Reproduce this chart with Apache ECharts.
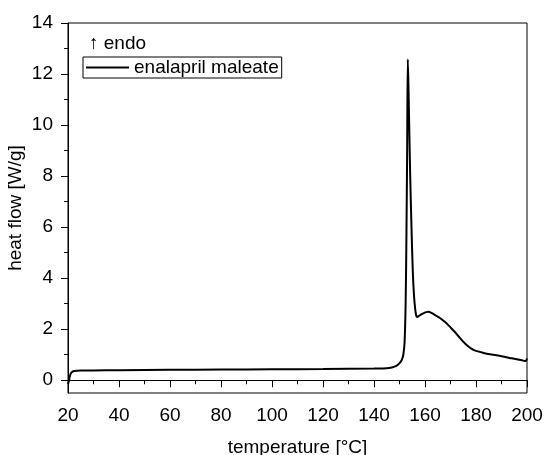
<!DOCTYPE html>
<html>
<head>
<meta charset="utf-8">
<script src="https://cdn.jsdelivr.net/npm/echarts@6/dist/echarts.min.js"></script>
<style>
html,body{margin:0;padding:0;background:#fff;}
#chart{width:544px;height:455px;}
</style>
</head>
<body>
<div id="chart"></div>
<script>
// temperature [°C]
var temperature = [20.0, 20.3, 20.7, 21.2, 21.8, 22.5, 23.5, 25, 30, 40, 60, 80, 100, 120, 140, 145, 147, 148.5, 149.5, 150.3, 150.9, 151.5, 152.0, 152.4, 152.7, 153.0, 153.25, 153.5, 153.8, 154.2, 154.7, 155.2, 155.7, 156.2, 156.6, 157.0, 157.6, 158.5, 159.5, 160.5, 161.3, 162.5, 164, 166, 168, 170, 172, 174, 176, 178, 180, 183, 186, 190, 194, 198, 199.5, 200];
// heat flow [W/g]
var heatFlow = [-0.15, -0.05, 0.15, 0.28, 0.34, 0.36, 0.37, 0.38, 0.385, 0.39, 0.41, 0.42, 0.43, 0.44, 0.46, 0.47, 0.5, 0.55, 0.62, 0.7, 0.8, 1.0, 1.5, 3.0, 5.5, 9.0, 12.58, 11.6, 10.0, 8.0, 6.0, 4.3, 3.3, 2.75, 2.52, 2.48, 2.52, 2.58, 2.63, 2.67, 2.68, 2.64, 2.55, 2.43, 2.27, 2.07, 1.86, 1.62, 1.41, 1.25, 1.15, 1.07, 1.01, 0.94, 0.86, 0.78, 0.75, 0.85];
var seriesName = 'enalapril maleate';
var yLabelValues = [0, 2, 4, 6, 8, 10, 12, 14];
var yMinorValues = [1, 3, 5, 7, 9, 11, 13];

var data = temperature.map(function (t, i) { return [t, heatFlow[i]]; });
var font = 'Liberation Sans, Arial, sans-serif';
var chart = echarts.init(document.getElementById('chart'), null, {renderer: 'canvas'});
chart.setOption({
  animation: false,
  backgroundColor: '#fff',
  grid: {left: 68, right: 17, top: 23, bottom: 62, show: true, borderColor: '#000', borderWidth: 1, containLabel: false, outerBoundsMode: 'none'},
  legend: {
    left: 83, top: 57, orient: 'vertical',
    padding: [1, 3, 1, 3],
    borderColor: '#000', borderWidth: 1, borderRadius: 0,
    itemWidth: 43, itemHeight: 14,
    textStyle: {fontFamily: font, fontSize: 19, color: '#000'},
    data: [{name: seriesName, icon: 'path://M0,0 L43,0 L43,2 L0,2 Z'}]
  },
  graphic: [{
    type: 'text', left: 89, top: 34,
    style: {text: '↑ endo', fontFamily: font, fontSize: 19, fill: '#000'}
  }],
  xAxis: {
    type: 'value', min: 20, max: 200, interval: 20,
    name: 'temperature [°C]', nameLocation: 'middle', nameGap: 45, nameMoveOverlap: false,
    nameTextStyle: {fontFamily: font, fontSize: 19, color: '#000'},
    axisLine: {show: true, lineStyle: {color: '#000', width: 1}},
    axisTick: {show: true, length: 7, lineStyle: {color: '#000'}},
    minorTick: {show: true, splitNumber: 2, length: 4, lineStyle: {color: '#000'}},
    axisLabel: {fontFamily: font, fontSize: 19, color: '#000', margin: 13},
    splitLine: {show: false}
  },
  yAxis: [{
    type: 'value', min: -0.5, max: 14,
    name: 'heat flow [W/g]', nameLocation: 'middle', nameGap: 43, nameMoveOverlap: false,
    nameTextStyle: {fontFamily: font, fontSize: 19, color: '#000'},
    axisLine: {show: true, lineStyle: {color: '#000', width: 1}},
    axisTick: {show: true, length: 7, customValues: yLabelValues, lineStyle: {color: '#000'}},
    axisLabel: {fontFamily: font, fontSize: 19, color: '#000', margin: 15, customValues: yLabelValues},
    splitLine: {show: false}
  }, {
    type: 'value', min: -0.5, max: 14, position: 'left',
    axisLine: {show: false},
    axisTick: {show: true, length: 4, customValues: yMinorValues, lineStyle: {color: '#000'}},
    axisLabel: {show: false},
    splitLine: {show: false}
  }],
  series: [{
    name: seriesName, type: 'line', data: data,
    showSymbol: false, symbol: 'none', smooth: 0.3,
    lineStyle: {color: '#000', width: 2},
    itemStyle: {color: '#000'}
  }]
});
</script>
</body>
</html>
